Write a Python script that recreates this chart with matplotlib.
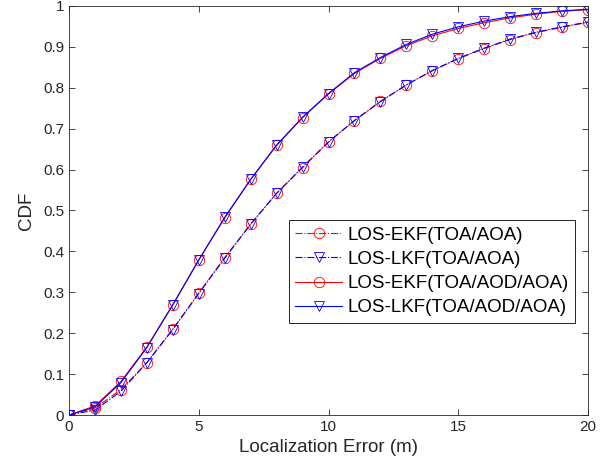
import matplotlib
matplotlib.use('Agg')
import matplotlib.pyplot as plt
import numpy as np

plt.rcParams['font.family'] = ['Liberation Sans', 'DejaVu Sans']

# localization error grid (m)
err = list(range(0, 21))

# CDF values, TOA/AOA
ekf_toa_aoa = [0.0, 0.017, 0.062, 0.128, 0.210, 0.298, 0.385, 0.466, 0.542, 0.605, 0.667,
               0.720, 0.767, 0.807, 0.842, 0.871, 0.896, 0.918, 0.935, 0.948, 0.960]
lkf_toa_aoa = [0.0, 0.012, 0.058, 0.128, 0.209, 0.297, 0.383, 0.467, 0.542, 0.606, 0.668,
               0.720, 0.766, 0.807, 0.842, 0.872, 0.897, 0.919, 0.936, 0.949, 0.961]

# CDF values, TOA/AOD/AOA
ekf_toa_aod_aoa = [0.0, 0.022, 0.082, 0.166, 0.270, 0.379, 0.482, 0.576, 0.659, 0.727, 0.785,
                   0.835, 0.872, 0.903, 0.927, 0.945, 0.959, 0.971, 0.980, 0.987, 0.991]
lkf_toa_aod_aoa = [0.0, 0.020, 0.079, 0.165, 0.269, 0.379, 0.483, 0.576, 0.660, 0.728, 0.786,
                   0.837, 0.874, 0.906, 0.931, 0.949, 0.963, 0.974, 0.982, 0.988, 0.992]

labels = ['LOS-EKF(TOA/AOA)', 'LOS-LKF(TOA/AOA)',
          'LOS-EKF(TOA/AOD/AOA)', 'LOS-LKF(TOA/AOD/AOA)']

fig = plt.figure(figsize=(6.15, 4.75), dpi=100)
ax = fig.add_axes([0.1122, 0.1263, 0.8439, 0.8611])

lw = 0.8
ms = 7.5
mew = 0.6
ax.plot(err, ekf_toa_aoa, '-.', color='red', marker='o', mfc='none', ms=ms, mew=mew, lw=lw, label=labels[0])
ax.plot(err, lkf_toa_aoa, '-.', color='blue', marker='v', mfc='none', ms=ms, mew=mew, lw=lw, label=labels[1])
ax.plot(err, ekf_toa_aod_aoa, '-', color='red', marker='o', mfc='none', ms=ms, mew=mew, lw=lw, label=labels[2])
ax.plot(err, lkf_toa_aod_aoa, '-', color='blue', marker='v', mfc='none', ms=ms, mew=mew, lw=lw, label=labels[3])

ax.set_xlim(0, 20)
ax.set_ylim(0, 1)
ax.set_xticks([0, 5, 10, 15, 20])
ax.set_yticks(np.arange(0, 11) / 10)
ax.set_yticklabels(['0', '0.1', '0.2', '0.3', '0.4', '0.5', '0.6', '0.7', '0.8', '0.9', '1'])

axcol = '#262626'
for s in ax.spines.values():
    s.set_color(axcol)
    s.set_linewidth(0.6)
ax.tick_params(direction='in', top=True, right=True, length=4.5, width=0.6,
               colors=axcol, labelsize=11, labelcolor=axcol)

ax.set_xlabel('Localization Error (m)', fontsize=13.5, color=axcol, labelpad=4)
ax.set_ylabel('CDF', fontsize=13.5, color=axcol, labelpad=6)

leg = ax.legend(loc='lower right', bbox_to_anchor=(0.975, 0.225), fontsize=13.5,
                fancybox=False, framealpha=1, edgecolor='black', borderpad=0.35,
                labelspacing=0.38, handlelength=2.5, handletextpad=0.27, borderaxespad=0)
leg.get_frame().set_linewidth(0.6)

fig.savefig('out.png', dpi=100)
